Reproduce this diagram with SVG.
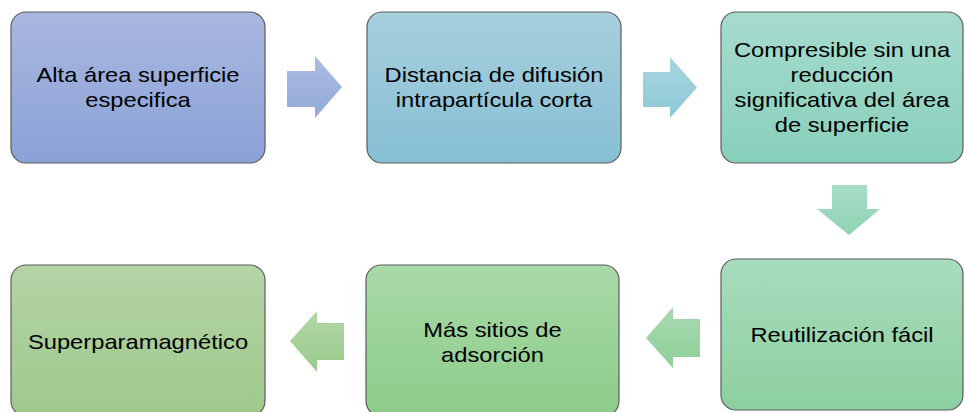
<svg xmlns="http://www.w3.org/2000/svg" width="964" height="412" viewBox="0 0 964 412">
  <defs>
    <linearGradient id="g1" x1="0" y1="0" x2="0" y2="1"><stop offset="0" stop-color="#a9b7e0"/><stop offset="1" stop-color="#8aa2d6"/></linearGradient>
    <linearGradient id="g2" x1="0" y1="0" x2="0" y2="1"><stop offset="0" stop-color="#a7cfdd"/><stop offset="1" stop-color="#86bfd4"/></linearGradient>
    <linearGradient id="g3" x1="0" y1="0" x2="0" y2="1"><stop offset="0" stop-color="#a6dbcd"/><stop offset="1" stop-color="#88d0bb"/></linearGradient>
    <linearGradient id="g4" x1="0" y1="0" x2="0" y2="1"><stop offset="0" stop-color="#a8dcbd"/><stop offset="1" stop-color="#8ccf9f"/></linearGradient>
    <linearGradient id="g5" x1="0" y1="0" x2="0" y2="1"><stop offset="0" stop-color="#a9d9a8"/><stop offset="1" stop-color="#8ccc89"/></linearGradient>
    <linearGradient id="g6" x1="0" y1="0" x2="0" y2="1"><stop offset="0" stop-color="#b4d4a6"/><stop offset="1" stop-color="#9ec98b"/></linearGradient>
    <linearGradient id="a1" x1="0" y1="0" x2="0" y2="1"><stop offset="0" stop-color="#adbbe2"/><stop offset="1" stop-color="#93aad9"/></linearGradient>
    <linearGradient id="a2" x1="0" y1="0" x2="0" y2="1"><stop offset="0" stop-color="#a9d5df"/><stop offset="1" stop-color="#8ccad6"/></linearGradient>
    <linearGradient id="a3" x1="0" y1="0" x2="0" y2="1"><stop offset="0" stop-color="#a8dcc8"/><stop offset="1" stop-color="#8fd3b3"/></linearGradient>
    <linearGradient id="a4" x1="0" y1="0" x2="0" y2="1"><stop offset="0" stop-color="#a8d9b2"/><stop offset="1" stop-color="#8fcf98"/></linearGradient>
    <linearGradient id="a5" x1="0" y1="0" x2="0" y2="1"><stop offset="0" stop-color="#b2d7a8"/><stop offset="1" stop-color="#9acb8b"/></linearGradient>
  </defs>
  <style>
    .box { stroke: #5c5c5c; stroke-width: 1.2; }
    .lbl { font-family: "Liberation Sans", Arial, sans-serif; font-size: 21px; fill: #000; text-anchor: middle; }
  </style>

  <!-- step boxes -->
  <g id="n1">
    <rect class="box" x="11" y="12" width="254" height="151" rx="15" fill="url(#g1)"/>
    <g transform="translate(138,0) scale(1.13,1)">
      <text class="lbl" x="0" y="82">Alta área superficie</text>
      <text class="lbl" x="0" y="107">especifica</text>
    </g>
  </g>
  <g id="n2">
    <rect class="box" x="367" y="12" width="254" height="151" rx="15" fill="url(#g2)"/>
    <g transform="translate(494,0) scale(1.13,1)">
      <text class="lbl" x="0" y="82">Distancia de difusión</text>
      <text class="lbl" x="0" y="107">intrapartícula corta</text>
    </g>
  </g>
  <g id="n3">
    <rect class="box" x="721" y="12" width="242" height="151" rx="15" fill="url(#g3)"/>
    <g transform="translate(842,0) scale(1.13,1)">
      <text class="lbl" x="0" y="57">Compresible sin una</text>
      <text class="lbl" x="0" y="82">reducción</text>
      <text class="lbl" x="0" y="107">significativa del área</text>
      <text class="lbl" x="0" y="132">de superficie</text>
    </g>
  </g>
  <g id="n4">
    <rect class="box" x="721" y="259" width="242" height="151" rx="15" fill="url(#g4)"/>
    <g transform="translate(842,0) scale(1.13,1)">
      <text class="lbl" x="0" y="342">Reutilización fácil</text>
    </g>
  </g>
  <g id="n5">
    <rect class="box" x="366" y="265" width="253" height="151" rx="15" fill="url(#g5)"/>
    <g transform="translate(492.5,0) scale(1.13,1)">
      <text class="lbl" x="0" y="337">Más sitios de</text>
      <text class="lbl" x="0" y="362">adsorción</text>
    </g>
  </g>
  <g id="n6">
    <rect class="box" x="11" y="265" width="254" height="151" rx="15" fill="url(#g6)"/>
    <g transform="translate(138,0) scale(1.13,1)">
      <text class="lbl" x="0" y="349">Superparamagnético</text>
    </g>
  </g>

  <!-- block arrows between steps -->
  <g id="connectors">
    <polygon points="287,71 315,71 315,56 342,87 315,118 315,107 287,107" fill="url(#a1)"/>
    <polygon points="643,72 670,72 670,57 697,87.5 670,118 670,107 643,107" fill="url(#a2)"/>
    <polygon points="832,185 867,185 867,209 880,209 849,235 817,209 832,209" fill="url(#a3)"/>
    <polygon points="700,319 673,319 673,307 646,338 673,368 673,357 700,357" fill="url(#a4)"/>
    <polygon points="344,323 317,323 317,311 290,341 317,372 317,360 344,360" fill="url(#a5)"/>
  </g>
</svg>
